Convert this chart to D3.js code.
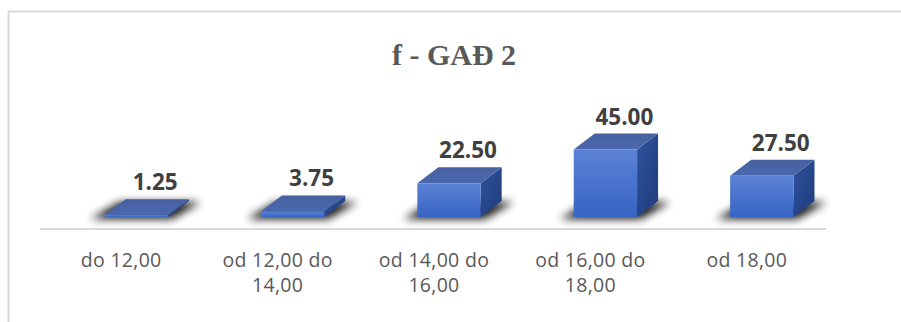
<!DOCTYPE html>
<html>
<head>
<meta charset="utf-8">
<script src="https://cdn.jsdelivr.net/npm/d3@7/dist/d3.min.js"></script>
<style>
  html, body { margin: 0; padding: 0; background: #ffffff; }
  svg { display: block; }
</style>
</head>
<body>
<svg id="chart" width="901" height="322"></svg>
<script>
// Chart data
const title = "f - GAĐ 2";
const categories = ["do 12,00", "od 12,00 do 14,00", "od 14,00 do 16,00", "od 16,00 do 18,00", "od 18,00"];
const values = [1.25, 3.75, 22.50, 45.00, 27.50];
const valueFormat = d3.format(".2f");

const W = 901, H = 322;
const svg = d3.select("#chart");

// 3D extrusion offsets for the boxes
const depthX = 21, depthY = 16;

const x = d3.scalePoint().domain(categories).range([58, 840]).padding(0.5);
const barW = x.step() * 0.405;
const y = d3.scaleLinear().domain([0, 50]).range([217, 142]);

const defs = svg.append("defs");

const gFront = defs.append("linearGradient").attr("id", "gFront")
  .attr("x1", 0).attr("y1", 0).attr("x2", 0).attr("y2", 1);
gFront.append("stop").attr("offset", "0%").attr("stop-color", "#5b82d4");
gFront.append("stop").attr("offset", "100%").attr("stop-color", "#3764c4");

const gTop = defs.append("linearGradient").attr("id", "gTop")
  .attr("x1", 0).attr("y1", 1).attr("x2", 0).attr("y2", 0);
gTop.append("stop").attr("offset", "0%").attr("stop-color", "#4a68ad");
gTop.append("stop").attr("offset", "100%").attr("stop-color", "#4761a0");

const gSide = defs.append("linearGradient").attr("id", "gSide")
  .attr("x1", 0).attr("y1", 0).attr("x2", 1).attr("y2", 1);
gSide.append("stop").attr("offset", "0%").attr("stop-color", "#2f529c");
gSide.append("stop").attr("offset", "100%").attr("stop-color", "#1f3c7c");

const blur = defs.append("filter").attr("id", "shadowBlur")
  .attr("x", "-50%").attr("y", "-100%").attr("width", "200%").attr("height", "300%");
blur.append("feGaussianBlur").attr("stdDeviation", 4.5);

// Chart frame
svg.append("rect")
  .attr("x", 8.5).attr("y", 11.5)
  .attr("width", W + 20).attr("height", H + 20)
  .attr("fill", "none").attr("stroke", "#d9d9d9").attr("stroke-width", 2);

// Title
svg.append("text")
  .attr("x", 454).attr("y", 65)
  .attr("text-anchor", "middle")
  .attr("font-family", "'Liberation Serif', 'Times New Roman', serif")
  .attr("font-weight", "bold")
  .attr("font-size", 30)
  .attr("fill", "#595959")
  .text(title);

// Floor line
svg.append("line")
  .attr("x1", 40).attr("x2", 826)
  .attr("y1", 229).attr("y2", 229)
  .attr("stroke", "#d9d9d9").attr("stroke-width", 2);

const data = categories.map((c, i) => ({ cat: c, value: values[i] }));

const bars = svg.append("g").selectAll("g.bar").data(data).join("g").attr("class", "bar");

const left = d => x(d.cat) - barW / 2;
const right = d => x(d.cat) + barW / 2;
const base = y(0);

// Soft shadow on the floor
bars.append("polygon")
  .attr("points", d => {
    const xl = left(d), xr = right(d);
    return [
      [xl - 14, base + 2], [xr + 4, base + 2],
      [xr + depthX + 12, base - depthY + 1], [xl + depthX - 6, base - depthY + 1]
    ].map(p => p.join(",")).join(" ");
  })
  .attr("fill", "#000").attr("opacity", 0.9)
  .attr("filter", "url(#shadowBlur)");

// Side face
bars.append("polygon")
  .attr("points", d => {
    const xr = right(d), yt = y(d.value);
    return [[xr, base], [xr, yt], [xr + depthX, yt - depthY], [xr + depthX, base - depthY]]
      .map(p => p.join(",")).join(" ");
  })
  .attr("fill", "url(#gSide)");

// Top face
bars.append("polygon")
  .attr("points", d => {
    const xl = left(d), xr = right(d), yt = y(d.value);
    return [[xl, yt], [xr, yt], [xr + depthX, yt - depthY], [xl + depthX, yt - depthY]]
      .map(p => p.join(",")).join(" ");
  })
  .attr("fill", "url(#gTop)");

// Front face
bars.append("rect")
  .attr("x", d => left(d))
  .attr("y", d => y(d.value))
  .attr("width", barW)
  .attr("height", d => base - y(d.value))
  .attr("fill", "url(#gFront)");

// Value labels
bars.append("text")
  .attr("x", d => x(d.cat) + 19)
  .attr("y", d => y(d.value) - 25)
  .attr("text-anchor", "middle")
  .attr("font-family", "'Open Sans', 'Noto Sans', sans-serif")
  .attr("font-weight", "bold")
  .attr("font-size", 22.5)
  .attr("fill", "#404040")
  .text(d => valueFormat(d.value));

// Category labels, wrapped to the slot width
const catG = svg.append("g")
  .attr("font-family", "'Open Sans', 'Noto Sans', sans-serif")
  .attr("font-size", 19.5)
  .attr("letter-spacing", 0.3)
  .attr("fill", "#595959");

const maxLine = 135;
categories.forEach(c => {
  const t = catG.append("text")
    .attr("x", x(c) - 15).attr("y", 267)
    .attr("text-anchor", "middle");
  const words = c.split(" ");
  let lines = [], cur = [];
  const probe = t.append("tspan");
  words.forEach(w => {
    const test = cur.concat([w]).join(" ");
    probe.text(test);
    if (cur.length && probe.node().getComputedTextLength() > maxLine) {
      lines.push(cur.join(" "));
      cur = [w];
    } else {
      cur.push(w);
    }
  });
  lines.push(cur.join(" "));
  probe.remove();
  lines.forEach((ln, i) => {
    t.append("tspan")
      .attr("x", x(c) - 15)
      .attr("dy", i === 0 ? 0 : 24.5)
      .text(ln);
  });
});
</script>
</body>
</html>
